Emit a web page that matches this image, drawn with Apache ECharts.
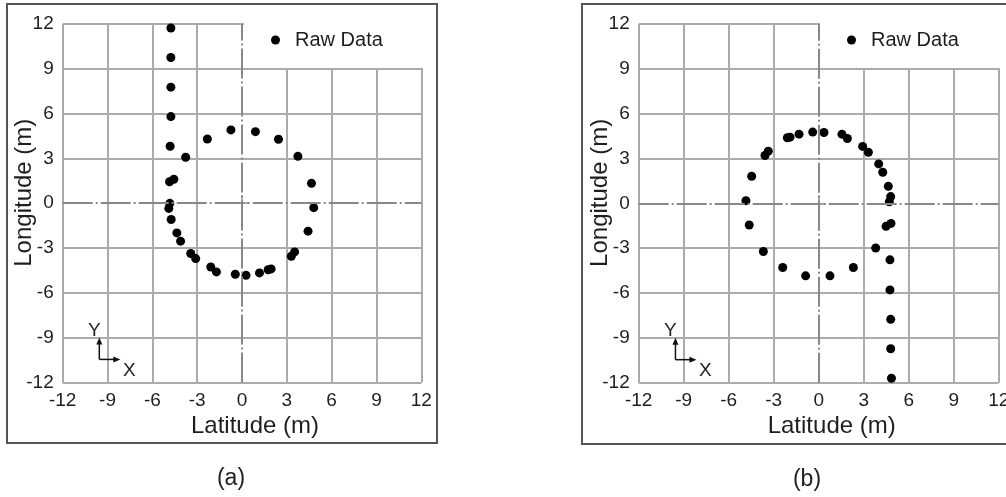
<!DOCTYPE html>
<html>
<head>
<meta charset="utf-8">
<script src="https://cdn.jsdelivr.net/npm/echarts@6/dist/echarts.min.js"></script>
<style>
html,body{margin:0;padding:0;background:#fff;}
#c{width:1006px;height:497px;}
</style>
</head>
<body>
<div id="c"></div>
<script>
// ---- data ----
const ticks = [-12, -9, -6, -3, 0, 3, 6, 9, 12];
const seriesName = 'Raw Data';
const xTitle = 'Latitude (m)';
const yTitle = 'Longitude (m)';
const captions = ['(a)', '(b)'];

const pointsA = [
  [-4.76, 11.73], [-4.76, 9.76], [-4.76, 7.77], [-4.76, 5.80], [-4.81, 3.81],
  [-3.77, 3.08], [-2.32, 4.30], [-0.74, 4.91], [0.90, 4.79], [2.44, 4.28],
  [3.74, 3.14], [4.65, 1.33], [4.80, -0.30], [4.42, -1.87], [3.52, -3.26],
  [3.30, -3.55], [1.95, -4.40], [1.75, -4.46], [1.17, -4.67], [0.27, -4.83],
  [-0.45, -4.76], [-1.71, -4.60], [-2.09, -4.27], [-3.10, -3.71], [-3.43, -3.37],
  [-4.11, -2.54], [-4.36, -1.99], [-4.74, -1.09], [-4.90, -0.35], [-4.83, -0.01],
  [-4.85, 1.44], [-4.56, 1.60]
];

const pointsB = [
  [-0.40, 4.77], [0.35, 4.74], [-1.31, 4.63], [-1.91, 4.43], [-2.09, 4.39],
  [1.55, 4.63], [1.91, 4.34], [2.93, 3.81], [3.31, 3.42], [-3.36, 3.49],
  [-3.58, 3.20], [4.00, 2.64], [4.27, 2.08], [-4.47, 1.81], [4.64, 1.14],
  [4.80, 0.45], [4.71, 0.11], [-4.85, 0.18], [-4.63, -1.45], [4.82, -1.34],
  [4.49, -1.54], [-3.69, -3.22], [3.80, -2.99], [4.75, -3.78], [-2.40, -4.29],
  [-0.87, -4.85], [0.75, -4.85], [2.31, -4.29],
  [4.75, -5.79], [4.80, -7.76], [4.80, -9.73], [4.85, -11.70]
];

// ---- styling ----
const FONT = "'Liberation Sans', Arial, sans-serif";
const GRIDC = '#ababab';
const ZEROC = '#888888';
const TXT = '#1e1e1e';
const splitColors = ticks.map(t => t === 0 ? 'rgba(0,0,0,0)' : GRIDC);

function mainX(gi) {
  return {
    gridIndex: gi, type: 'value', position: 'bottom',
    min: ticks[0], max: ticks[ticks.length - 1], interval: 3,
    axisLine: {show: false},
    axisTick: {show: true, length: 6, lineStyle: {color: GRIDC, width: 2}},
    axisLabel: {margin: 9, fontSize: 19, color: TXT, fontFamily: FONT},
    splitLine: {show: true, lineStyle: {color: splitColors, width: 2}},
    name: xTitle, nameLocation: 'middle', nameGap: 32, nameMoveOverlap: false,
    nameTextStyle: {fontSize: 24, color: TXT, fontFamily: FONT, padding: [0, 0, 0, 26]}
  };
}
function auxX(gi) {
  return {
    gridIndex: gi, type: 'value', position: 'top',
    min: ticks[0], max: ticks[ticks.length - 1], interval: 3,
    axisLine: {show: false},
    axisTick: {show: true, length: 8, lineStyle: {color: GRIDC, width: 2}},
    axisLabel: {show: false}, splitLine: {show: false}
  };
}
function mainY(gi) {
  return {
    gridIndex: gi, type: 'value', position: 'left',
    min: ticks[0], max: ticks[ticks.length - 1], interval: 3,
    axisLine: {show: false},
    axisTick: {show: true, length: 7, lineStyle: {color: GRIDC, width: 2}},
    axisLabel: {margin: 9, fontSize: 19, color: TXT, fontFamily: FONT},
    splitLine: {show: true, lineStyle: {color: splitColors, width: 2}},
    name: yTitle, nameLocation: 'middle', nameGap: 26, nameRotate: 90, nameMoveOverlap: false,
    nameTextStyle: {fontSize: 24, lineHeight: 24, color: TXT, fontFamily: FONT, padding: [0, 0, 0, 21]}
  };
}
function auxY(gi) {
  return {
    gridIndex: gi, type: 'value', position: 'right',
    min: ticks[0], max: ticks[ticks.length - 1], interval: 3,
    axisLine: {show: false},
    axisTick: {show: true, length: 7, lineStyle: {color: GRIDC, width: 2}},
    axisLabel: {show: false}, splitLine: {show: false}
  };
}
function scatter(data, xi, yi) {
  return {
    name: seriesName, type: 'scatter', xAxisIndex: xi, yAxisIndex: yi,
    data: data, symbol: 'circle', symbolSize: 9,
    itemStyle: {color: '#000', opacity: 1},
    emphasis: {disabled: true},
    markLine: {
      silent: true, symbol: 'none', animation: false,
      label: {show: false},
      lineStyle: {color: ZEROC, width: 2, type: [30, 3, 2, 3]},
      emphasis: {disabled: true},
      data: [{xAxis: 0}, {yAxis: 0}]
    }
  };
}
function legend(left, padLeft, padRight) {
  return {
    data: [seriesName], left: left, top: 8, orient: 'horizontal',
    backgroundColor: '#fff', padding: [22, padRight, 18, padLeft],
    icon: 'circle', itemWidth: 9, itemHeight: 9, selectedMode: false,
    textStyle: {fontSize: 20, lineHeight: 20, color: TXT, fontFamily: FONT, padding: [0, 0, 0, 10]}
  };
}

const chart = echarts.init(document.getElementById('c'), null, {renderer: 'canvas'});
chart.setOption({
  animation: false,
  backgroundColor: '#fff',
  textStyle: {fontFamily: FONT},
  grid: [
    {left: 62.7, top: 24, width: 358.6, height: 358.4, outerBoundsMode: 'none', containLabel: false},
    {left: 638.7, top: 24, width: 360, height: 358.7, outerBoundsMode: 'none', containLabel: false}
  ],
  xAxis: [mainX(0), auxX(0), mainX(1), auxX(1)],
  yAxis: [mainY(0), auxY(0), mainY(1), auxY(1)],
  legend: [legend(244, 27, 47), legend(820, 27, 200)],
  series: [scatter(pointsA, 0, 0), scatter(pointsB, 2, 2)]
});

// frames, captions and the small X/Y orientation glyph
const glyphAnchor = [-9.55, -10.46];
const gfx = [
  {type: 'rect', shape: {x: 7, y: 4, width: 430, height: 439}, style: {fill: 'none', stroke: '#555', lineWidth: 2}, z: 10, silent: true},
  {type: 'rect', shape: {x: 582, y: 4, width: 440, height: 440}, style: {fill: 'none', stroke: '#555', lineWidth: 2}, z: 10, silent: true},
  {type: 'text', x: 231, y: 479, style: {text: captions[0], font: '23px ' + FONT, fill: TXT, align: 'center', verticalAlign: 'middle'}, z: 10},
  {type: 'text', x: 807, y: 480, style: {text: captions[1], font: '23px ' + FONT, fill: TXT, align: 'center', verticalAlign: 'middle'}, z: 10}
];
[[0, 0], [2, 2]].forEach(([xi, yi]) => {
  const p = chart.convertToPixel({xAxisIndex: xi, yAxisIndex: yi}, glyphAnchor);
  const x = p[0], y = p[1];
  gfx.push(
    {type: 'line', shape: {x1: x, y1: y, x2: x, y2: y - 17}, style: {stroke: '#111', lineWidth: 1.5}, z: 10},
    {type: 'polygon', shape: {points: [[x, y - 22], [x - 3, y - 15], [x + 3, y - 15]]}, style: {fill: '#111'}, z: 10},
    {type: 'line', shape: {x1: x, y1: y, x2: x + 16, y2: y}, style: {stroke: '#111', lineWidth: 1.5}, z: 10},
    {type: 'polygon', shape: {points: [[x + 21, y], [x + 14, y - 3], [x + 14, y + 3]]}, style: {fill: '#111'}, z: 10},
    {type: 'text', x: x - 5, y: y - 29, style: {text: 'Y', font: '19px ' + FONT, fill: TXT, align: 'center', verticalAlign: 'middle'}, z: 10},
    {type: 'text', x: x + 30, y: y + 11, style: {text: 'X', font: '19px ' + FONT, fill: TXT, align: 'center', verticalAlign: 'middle'}, z: 10}
  );
});
chart.setOption({graphic: gfx});
</script>
</body>
</html>
